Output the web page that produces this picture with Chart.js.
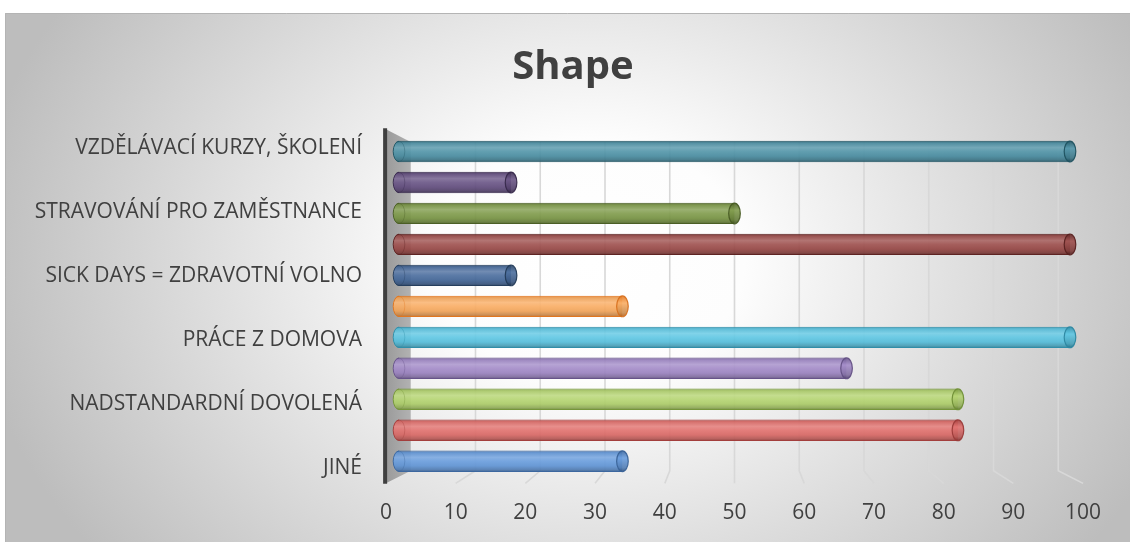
<!DOCTYPE html>
<html>
<head>
<meta charset="utf-8">
<script src="https://cdn.jsdelivr.net/npm/chart.js@4.4.1/dist/chart.umd.min.js"></script>
<style>
  html, body { margin: 0; padding: 0; background: #ffffff; }
  #wrap { width: 1130px; height: 542px; }
</style>
</head>
<body>
<div id="wrap"><canvas id="c" width="1130" height="542"></canvas></div>
<script>
// Categories from bottom to top; every second name is left blank on the axis
const categories = [
  'JINÉ', '',
  'NADSTANDARDNÍ DOVOLENÁ', '',
  'PRÁCE Z DOMOVA', '',
  'SICK DAYS = ZDRAVOTNÍ VOLNO', '',
  'STRAVOVÁNÍ PRO ZAMĚSTNANCE', '',
  'VZDĚLÁVACÍ KURZY, ŠKOLENÍ'
];
const values = [33.3, 83.3, 83.3, 66.7, 100, 33.3, 16.7, 100, 50, 16.7, 100];
const axisMin = 0;
const axisMax = 100;
const axisStep = 10;

// One colour per bar (body tone and rim tone)
const barColors  = ['#6399dc', '#e06b68', '#b2d36c', '#9f86c6', '#58c4e2', '#f9a95c',
                    '#43679a', '#9a4846', '#7a9744', '#634d80', '#4a90a5'];
const edgeColors = ['#3c679f', '#a33e3c', '#76963a', '#67538a', '#2f8ea9', '#e2761e',
                    '#253e5e', '#5e2322', '#4b5f25', '#3a2b4f', '#215665'];

const TEXT = '#404040';
const FONT = "'Open Sans', 'DejaVu Sans', sans-serif";
const K_BACK = 0.965;   // depth scale of the back wall
const K_FRONT = 1.039;  // depth scale of the front edge
const CAT_PCT = 0.69;

function hexRgb(h) {
  const n = parseInt(h.slice(1), 16);
  return [(n >> 16) & 255, (n >> 8) & 255, n & 255];
}
function shade(h, t, a) {
  const c = hexRgb(h);
  const tgt = t >= 0 ? 255 : 0, f = Math.abs(t);
  const m = c.map(v => Math.round(v + (tgt - v) * f));
  return `rgba(${m[0]},${m[1]},${m[2]},${a === undefined ? 1 : a})`;
}

function bodyGradient(chart, i, yc, half) {
  const g = chart.ctx.createLinearGradient(0, yc - half, 0, yc + half);
  const b = barColors[i], e = edgeColors[i], A = 0.92;
  g.addColorStop(0.00, shade(e, 0, A));
  g.addColorStop(0.10, shade(b, -0.06, A));
  g.addColorStop(0.32, shade(b, 0.18, A));
  g.addColorStop(0.50, shade(b, 0.06, A));
  g.addColorStop(0.72, shade(b, -0.04, A));
  g.addColorStop(0.90, shade(b, -0.2, A));
  g.addColorStop(1.00, shade(e, -0.15, A));
  return g;
}

function barFill(ctx) {
  const chart = ctx.chart;
  const ys = chart.scales.y;
  if (!chart.chartArea || !ys) return barColors[ctx.dataIndex];
  const band = (ys.bottom - ys.top) / categories.length;
  return bodyGradient(chart, ctx.dataIndex, ys.getPixelForValue(ctx.dataIndex), band * CAT_PCT / 2);
}

function persp(area, x, y, k) {
  const cx = (area.left + area.right) / 2, cy = (area.top + area.bottom) / 2;
  return { x: cx + (x - cx) * k, y: cy + (y - cy) * k };
}

const scenePlugin = {
  id: 'scene',
  beforeDraw(chart) {
    const { ctx, width, height } = chart;
    ctx.save();
    ctx.fillStyle = '#ffffff';
    ctx.fillRect(0, 0, width, height);
    // radial sheen of the chart box
    ctx.save();
    ctx.beginPath();
    ctx.rect(5, 13, width - 5, height - 13);
    ctx.clip();
    ctx.translate(590, 260);
    ctx.scale(1, 0.78);
    const rg = ctx.createRadialGradient(0, 0, 0, 0, 0, 620);
    rg.addColorStop(0, '#ffffff');
    rg.addColorStop(0.25, '#fdfdfd');
    rg.addColorStop(1, '#bdbdbd');
    ctx.fillStyle = rg;
    ctx.fillRect(-800, -800, 1600, 1600);
    ctx.restore();
    ctx.strokeStyle = '#b4b4b4';
    ctx.lineWidth = 1;
    ctx.beginPath();
    ctx.moveTo(5.5, height);
    ctx.lineTo(5.5, 13.5);
    ctx.lineTo(width, 13.5);
    ctx.stroke();
    ctx.restore();
  },
  beforeDatasetsDraw(chart) {
    const { ctx, chartArea: a } = chart;
    const xs = chart.scales.x, ys = chart.scales.y;
    ctx.save();
    // back wall gridlines running onto the floor
    ctx.strokeStyle = '#d8d8d8';
    ctx.lineWidth = 1.6;
    xs.ticks.forEach(t => {
      if (t.value === axisMin) return;
      const px = xs.getPixelForValue(t.value);
      const bt = persp(a, px, a.top, K_BACK);
      const bb = persp(a, px, a.bottom, K_BACK);
      const fb = persp(a, px, a.bottom, K_FRONT);
      ctx.beginPath();
      ctx.moveTo(bt.x, bt.y);
      ctx.lineTo(bb.x, bb.y);
      ctx.lineTo(fb.x, fb.y);
      ctx.stroke();
    });
    // side wall at the zero line
    const p0 = xs.getPixelForValue(axisMin);
    const ft = persp(a, p0, a.top, K_FRONT), bt = persp(a, p0, a.top, K_BACK);
    const bb = persp(a, p0, a.bottom, K_BACK), fb = persp(a, p0, a.bottom, K_FRONT);
    const wg = ctx.createLinearGradient(ft.x, 0, bt.x, 0);
    wg.addColorStop(0, '#9a9a9a');
    wg.addColorStop(1, '#b2b2b2');
    ctx.fillStyle = wg;
    ctx.beginPath();
    ctx.moveTo(ft.x, ft.y);
    ctx.lineTo(bt.x, bt.y);
    ctx.lineTo(bb.x, bb.y);
    ctx.lineTo(fb.x, fb.y);
    ctx.closePath();
    ctx.fill();
    ctx.strokeStyle = '#3f3f3f';
    ctx.lineWidth = 4;
    ctx.beginPath();
    ctx.moveTo(ft.x - 0.8, ft.y - 1);
    ctx.lineTo(fb.x - 0.8, fb.y + 0.5);
    ctx.stroke();

    // value labels along the front edge
    ctx.fillStyle = TEXT;
    ctx.font = `21px ${FONT}`;
    ctx.textAlign = 'center';
    ctx.textBaseline = 'middle';
    xs.ticks.forEach(t => {
      const p = persp(a, xs.getPixelForValue(t.value), a.bottom, K_FRONT);
      ctx.fillText(String(t.value), p.x, a.bottom + 36.5);
    });
    // category names
    ctx.textAlign = 'right';
    categories.forEach((c, i) => {
      if (!c) return;
      const p = persp(a, a.left, ys.getPixelForValue(i), 1.035);
      ctx.fillText(c, a.left - 37, p.y + 1.5);
    });
    ctx.restore();
  },
  afterDatasetsDraw(chart) {
    const ctx = chart.ctx;
    const meta = chart.getDatasetMeta(0);
    ctx.save();
    meta.data.forEach((el, i) => {
      const { x, y, base, height } = el.getProps(['x', 'y', 'base', 'height'], true);
      const ry = height / 2, rx = 5.8;
      const grad = bodyGradient(chart, i, y, ry);
      // rounded start of the tube
      ctx.beginPath();
      ctx.ellipse(base, y, rx, ry, 0, Math.PI / 2, Math.PI * 1.5);
      ctx.closePath();
      ctx.fillStyle = grad;
      ctx.fill();
      ctx.lineWidth = 1;
      ctx.strokeStyle = shade(edgeColors[i], 0, 0.95);
      ctx.beginPath();
      ctx.ellipse(base, y, rx, ry - 0.5, 0, Math.PI / 2, Math.PI * 1.5);
      ctx.stroke();
      ctx.strokeStyle = shade(edgeColors[i], 0, 0.35);
      ctx.beginPath();
      ctx.ellipse(base, y, rx, ry - 0.5, 0, -Math.PI / 2, Math.PI / 2);
      ctx.stroke();
      // end cap of the tube
      const cg = ctx.createLinearGradient(0, y - ry, 0, y + ry);
      cg.addColorStop(0, shade(edgeColors[i], 0, 0.9));
      cg.addColorStop(0.35, shade(barColors[i], 0.05, 0.9));
      cg.addColorStop(0.8, shade(barColors[i], -0.18, 0.9));
      cg.addColorStop(1, shade(edgeColors[i], -0.2, 0.9));
      ctx.fillStyle = cg;
      ctx.beginPath();
      ctx.ellipse(x, y, rx, ry - 0.3, 0, 0, Math.PI * 2);
      ctx.fill();
      ctx.strokeStyle = shade(edgeColors[i], -0.05, 0.95);
      ctx.lineWidth = 1.2;
      ctx.stroke();
    });
    ctx.restore();
  }
};

new Chart(document.getElementById('c'), {
  type: 'bar',
  data: {
    labels: categories,
    datasets: [{
      data: values,
      backgroundColor: barFill,
      borderColor: edgeColors,
      borderWidth: { top: 1, bottom: 1, left: 0, right: 0 },
      borderSkipped: false,
      categoryPercentage: CAT_PCT,
      barPercentage: 1
    }]
  },
  options: {
    indexAxis: 'y',
    responsive: false,
    animation: false,
    devicePixelRatio: 1,
    layout: { padding: { left: 76, right: 60, top: 0, bottom: 0 } },
    plugins: {
      legend: { display: false },
      tooltip: { enabled: false },
      title: {
        display: true,
        text: 'Shape',
        color: TEXT,
        font: { family: FONT, size: 40, weight: 'bold', lineHeight: 1.2 },
        padding: { top: 44, bottom: 44 }
      }
    },
    scales: {
      x: {
        type: 'linear',
        min: axisMin,
        max: axisMax,
        ticks: { stepSize: axisStep, display: false },
        grid: { display: false },
        border: { display: false },
        afterFit(s) { s.height = 65.3; }
      },
      y: {
        type: 'category',
        reverse: true,
        ticks: { display: false },
        grid: { display: false },
        border: { display: false },
        afterFit(s) { s.width = 323; }
      }
    }
  },
  plugins: [scenePlugin]
});
</script>
</body>
</html>
